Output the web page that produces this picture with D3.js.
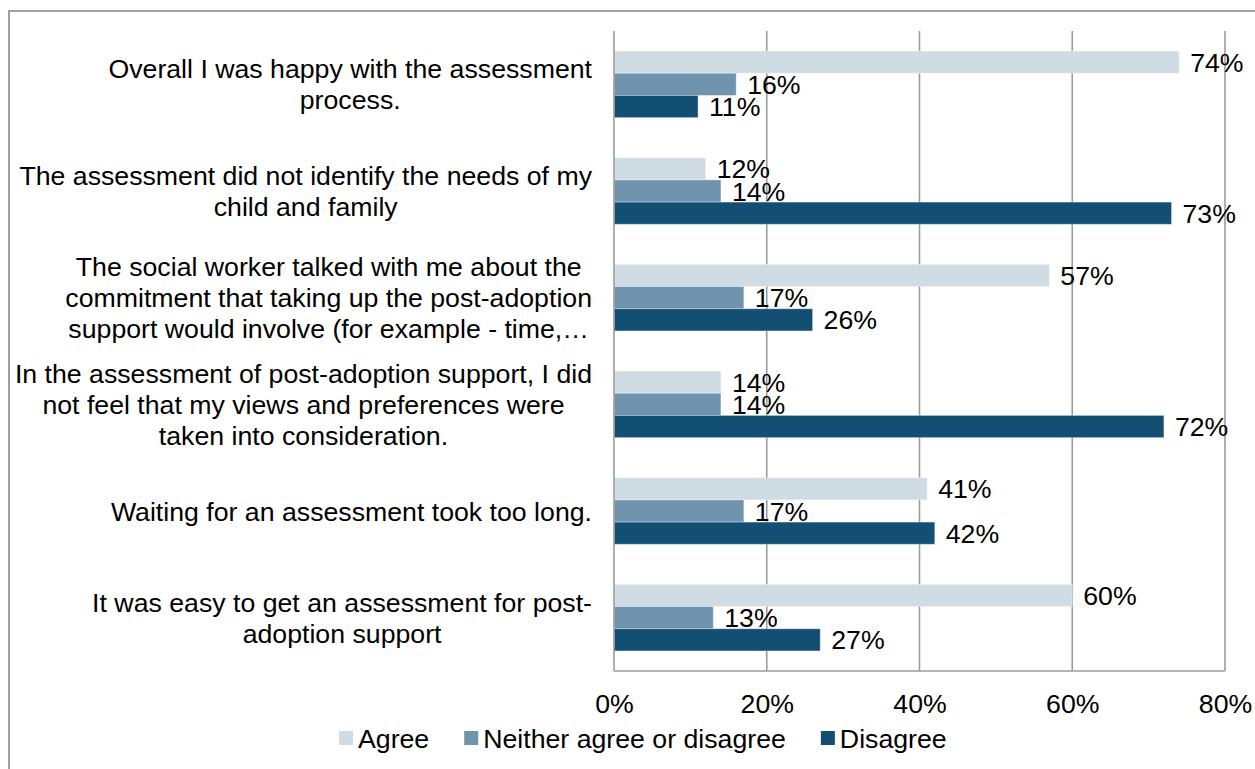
<!DOCTYPE html>
<html>
<head>
<meta charset="utf-8">
<script src="https://cdn.jsdelivr.net/npm/d3@7"></script>
<style>
  html, body { margin: 0; padding: 0; background: #fff; }
  svg { display: block; }
  text { font-family: "Liberation Sans", Arial, sans-serif; fill: #000; }
</style>
</head>
<body>
<svg id="chart" width="1255" height="769"></svg>
<script>
// Survey statements (line breaks mark how each label wraps)
const categories = [
  "Overall I was happy with the assessment\nprocess.",
  "The assessment did not identify the needs of my\nchild and family",
  "The social worker talked with me about the\ncommitment that taking up the post-adoption\nsupport would involve (for example - time,\u2026",
  "In the assessment of post-adoption support, I did\nnot feel that my views and preferences were\ntaken into consideration.",
  "Waiting for an assessment took too long.",
  "It was easy to get an assessment for post-\nadoption support"
];

const seriesNames = ["Agree", "Neither agree or disagree", "Disagree"];

// Percent of respondents per statement
const agree    = [74, 12, 57, 14, 41, 60];
const neither  = [16, 14, 17, 14, 17, 13];
const disagree = [11, 73, 26, 72, 42, 27];

const seriesColors = ["#cfdce4", "#7094ad", "#124f73"];
const tickValues = [0, 20, 40, 60, 80];

const FONT = 26.7;
const svg = d3.select("#chart");
const W = 1255, H = 769;

// Outer frame
svg.append("rect")
  .attr("x", 9).attr("y", 11)
  .attr("width", W + 10).attr("height", H + 10)
  .attr("fill", "none")
  .attr("stroke", "#a0a0a0")
  .attr("stroke-width", 2);

const plot = { left: 614, right: 1225, top: 31, bottom: 671 };

const x = d3.scaleLinear().domain([0, 80]).range([plot.left, plot.right]);

const y = d3.scaleBand()
  .domain(d3.range(categories.length))
  .range([plot.top, plot.bottom])
  .paddingInner(0).paddingOuter(0);

const step = y.bandwidth();
const inner = d3.scaleBand()
  .domain(d3.range(seriesNames.length))
  .range([step * 0.188, step * 0.812])
  .padding(0);

// Vertical gridlines
svg.append("g")
  .selectAll("line")
  .data(tickValues.slice(1))
  .join("line")
  .attr("x1", d => x(d)).attr("x2", d => x(d))
  .attr("y1", plot.top).attr("y2", plot.bottom)
  .attr("stroke", "#9c9c9c")
  .attr("stroke-width", 1.6);

// Bars
const values = [agree, neither, disagree];
const rows = [];
categories.forEach((c, i) => {
  values.forEach((arr, s) => rows.push({ cat: i, s, v: arr[i] }));
});

svg.append("g")
  .selectAll("rect")
  .data(rows)
  .join("rect")
  .attr("x", x(0))
  .attr("y", d => y(d.cat) + inner(d.s))
  .attr("width", d => x(d.v) - x(0))
  .attr("height", inner.bandwidth())
  .attr("fill", d => seriesColors[d.s])
  .attr("stroke", "#ffffff")
  .attr("stroke-opacity", 0.35)
  .attr("stroke-width", 1);

// Value labels
svg.append("g")
  .selectAll("text")
  .data(rows)
  .join("text")
  .attr("x", d => x(d.v) + 11)
  .attr("y", d => y(d.cat) + inner(d.s) + inner.bandwidth() / 2)
  .attr("dy", "0.36em")
  .attr("font-size", FONT)
  .text(d => d.v + "%");

// Axis lines (left and bottom)
svg.append("line")
  .attr("x1", x(0)).attr("x2", x(0))
  .attr("y1", plot.top).attr("y2", plot.bottom)
  .attr("stroke", "#9c9c9c").attr("stroke-width", 1.6);
svg.append("line")
  .attr("x1", x(0)).attr("x2", x(80))
  .attr("y1", plot.bottom).attr("y2", plot.bottom)
  .attr("stroke", "#9c9c9c").attr("stroke-width", 1.6);

// X axis tick labels
const xAxis = d3.axisBottom(x)
  .tickValues(tickValues)
  .tickSize(0)
  .tickPadding(0)
  .tickFormat(d => d + "%");

const gx = svg.append("g")
  .attr("transform", `translate(0,${plot.bottom})`)
  .call(xAxis);
gx.select(".domain").remove();
gx.selectAll("text")
  .attr("font-family", "Liberation Sans, Arial, sans-serif")
  .attr("font-size", FONT)
  .attr("fill", "#000")
  .attr("y", 32)
  .attr("dy", "0.36em");

// Category labels: each block right-aligned to the axis, lines centred in the block
const labelRight = 592;
const lineH = 31;
const catG = svg.append("g");
categories.forEach((c, i) => {
  const lines = c.split("\n");
  const g = catG.append("g");
  const cy = y(i) + step / 2;
  const texts = lines.map((ln, k) =>
    g.append("text")
      .attr("font-size", FONT)
      .attr("text-anchor", "middle")
      .attr("y", cy + (k - (lines.length - 1) / 2) * lineH)
      .attr("dy", "0.36em")
      .text(ln)
  );
  const maxW = d3.max(texts, t => t.node().getComputedTextLength());
  texts.forEach(t => t.attr("x", labelRight - maxW / 2));
});

// Legend
const legendY = 738;
const legend = svg.append("g");
let lx = 339;
seriesNames.forEach((name, s) => {
  legend.append("rect")
    .attr("x", lx).attr("y", legendY - 7)
    .attr("width", 14).attr("height", 14)
    .attr("fill", seriesColors[s]);
  const t = legend.append("text")
    .attr("x", lx + 19)
    .attr("y", legendY)
    .attr("dy", "0.36em")
    .attr("font-size", FONT)
    .text(name);
  lx += 19 + t.node().getComputedTextLength() + 35;
});
</script>
</body>
</html>
